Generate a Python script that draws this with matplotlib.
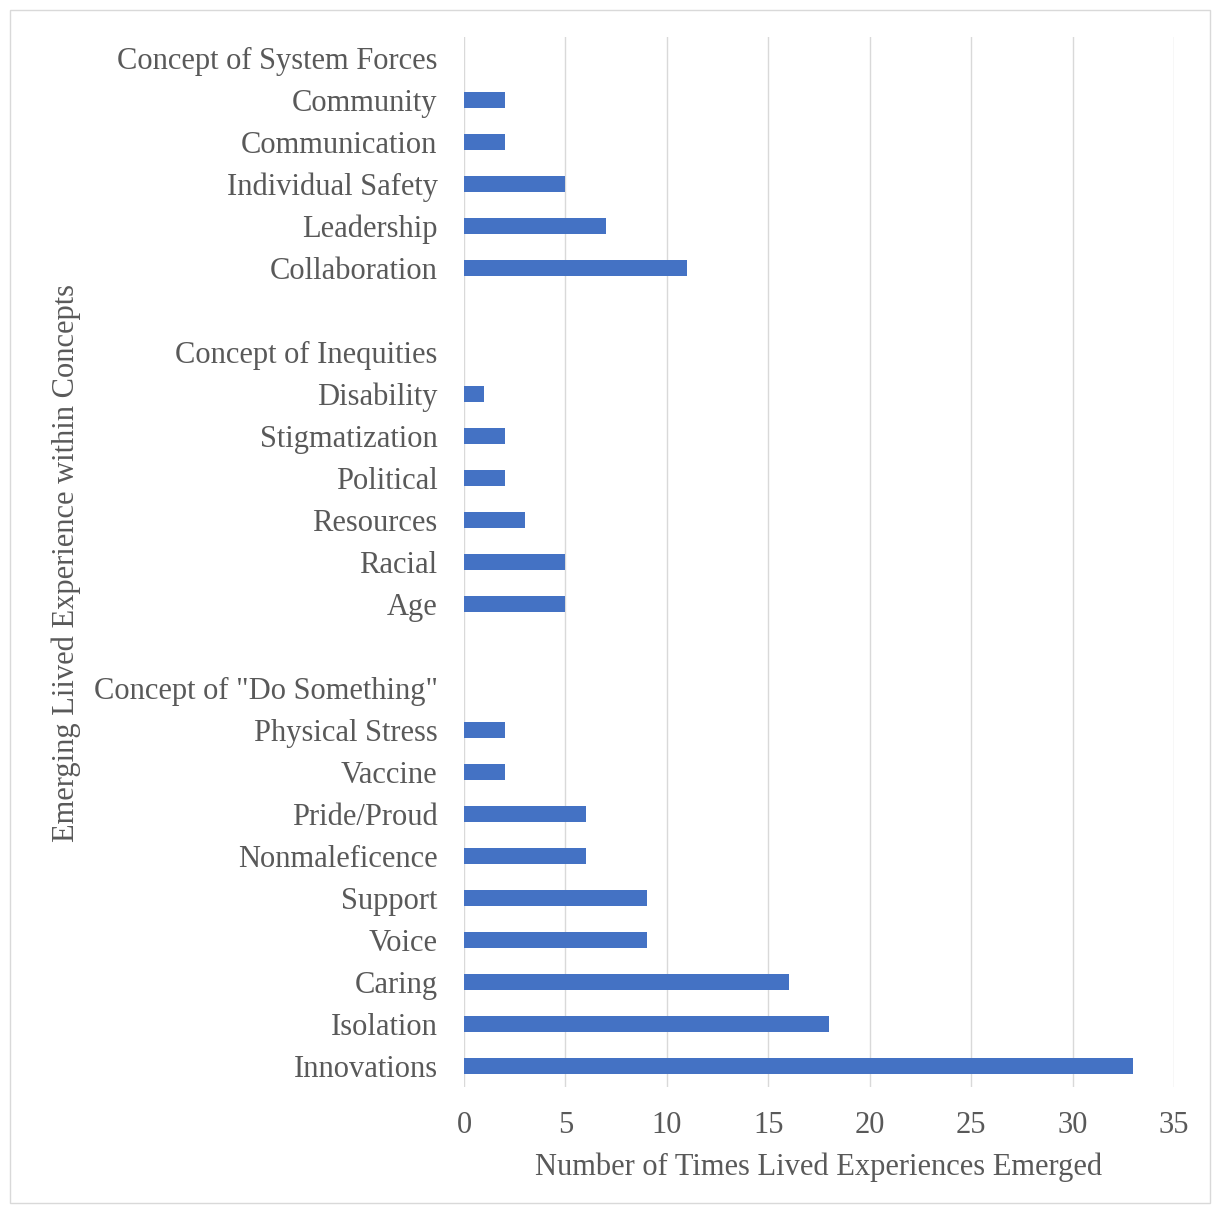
import matplotlib

matplotlib.use("Agg")

import matplotlib.pyplot as plt
import numpy as np

# rows listed top to bottom; headers and spacers have no bar (nan)
LABELS = [
    "Concept of System Forces",
    "Community",
    "Communication",
    "Individual Safety",
    "Leadership",
    "Collaboration",
    "",
    "Concept of Inequities",
    "Disability",
    "Stigmatization",
    "Political",
    "Resources",
    "Racial",
    "Age",
    "",
    'Concept of "Do Something"',
    "Physical Stress",
    "Vaccine",
    "Pride/Proud",
    "Nonmaleficence",
    "Support",
    "Voice",
    "Caring",
    "Isolation",
    "Innovations",
]
COUNTS = [
    np.nan, 2, 2, 5, 7, 11,
    np.nan,
    np.nan, 1, 2, 2, 3, 5, 5,
    np.nan,
    np.nan, 2, 2, 6, 6, 9, 9, 16, 18, 33,
]
X_TICKS = [0, 5, 10, 15, 20, 25, 30, 35]

BAR_COLOR = "#4472C4"
TEXT_COLOR = "#595959"
GRID_COLOR = "#D9D9D9"
FONT_SIZE = 22

plt.rcParams["font.family"] = ["Liberation Serif", "DejaVu Serif"]

fig = plt.figure(figsize=(12.2, 12.13), dpi=100)
ax = fig.add_axes([0.3803, 0.1039, 0.9623 - 0.3803, 0.9695 - 0.1039])

y_pos = np.arange(len(LABELS))[::-1]
values = np.nan_to_num(np.array(COUNTS, dtype=float), nan=0.0)
ax.barh(y_pos, values, height=0.38, color=BAR_COLOR, zorder=3)

ax.set_yticks(y_pos)
ax.set_yticklabels(LABELS)
ax.set_ylim(-0.5, len(LABELS) - 0.5)
ax.set_xlim(0, 35)
ax.set_xticks(X_TICKS)

ax.tick_params(axis="both", length=0, labelsize=FONT_SIZE, labelcolor=TEXT_COLOR)
ax.tick_params(axis="y", pad=19)
ax.tick_params(axis="x", pad=17)
ax.grid(axis="x", color=GRID_COLOR, linewidth=1.0, zorder=0)
for spine in ax.spines.values():
    spine.set_visible(False)

ax.set_xlabel("Number of Times Lived Experiences Emerged", fontsize=FONT_SIZE,
              color=TEXT_COLOR, labelpad=9)
fig.text(0.054, 0.536, "Emerging Liived Experience within Concepts",
         rotation=90, ha="center", va="center", fontsize=FONT_SIZE,
         color=TEXT_COLOR)

# light frame around the whole chart area
frame = plt.Rectangle((0.008, 0.008), 0.984, 0.984, transform=fig.transFigure,
                      fill=False, edgecolor="#D9D9D9", linewidth=1.0)
fig.patches.append(frame)

fig.savefig("out.png", dpi=100)
